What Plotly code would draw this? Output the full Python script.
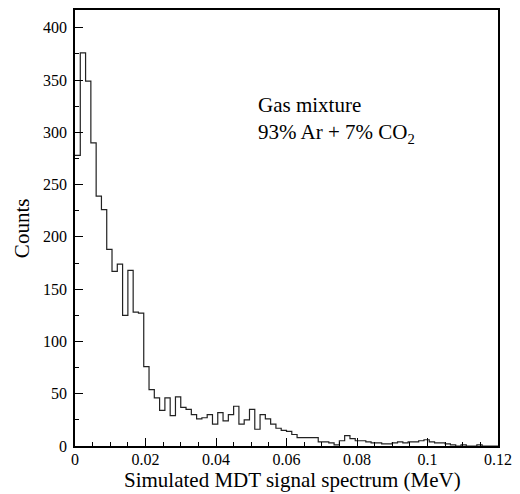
import numpy as np
import plotly.graph_objects as go

# ---- data ----
bin_width = 0.0015  # MeV
counts = [278, 376, 349, 290, 239, 226, 188, 167, 174, 125,
          168, 128, 127, 76, 54, 46, 34, 46, 29, 47,
          37, 35, 30, 26, 27, 30, 21, 32, 24, 30,
          38, 21, 25, 35, 16, 30, 26, 21, 17, 15,
          14, 11, 8, 8, 8, 8, 4, 4, 3, 1,
          5, 10, 7, 5, 5, 4, 3, 3, 2, 2,
          3, 4, 3, 4, 4, 5, 6, 4, 3, 3,
          2, 1, 0, 1, 0, 0, 1, 0, 0, 0]
x_ticks = [0, 0.02, 0.04, 0.06, 0.08, 0.10, 0.12]
x_ticklabels = ["0", "0.02", "0.04", "0.06", "0.08", "0.1", "0.12"]
y_ticks = [0, 50, 100, 150, 200, 250, 300, 350, 400]
y_ticklabels = [str(v) for v in y_ticks]

edges = [i * bin_width for i in range(len(counts) + 1)]
ys = counts + [counts[-1]]

FONT = "Liberation Serif, Times New Roman, serif"

fig = go.Figure()
fig.add_trace(go.Scatter(
    x=edges, y=ys, mode="lines", line=dict(shape="hv", color="#222222", width=1.2),
    hoverinfo="skip", showlegend=False))

fig.update_layout(
    width=520, height=494,
    margin=dict(l=75, r=20, t=8, b=48),
    paper_bgcolor="white", plot_bgcolor="white",
    font=dict(family=FONT, size=16, color="black"),
    showlegend=False,
)
fig.update_xaxes(
    range=[0, 0.12], tickvals=x_ticks, ticktext=x_ticklabels,
    ticks="inside", ticklen=8, tickwidth=1, tickcolor="black",
    minor=dict(dtick=0.005, tick0=0, ticks="inside", ticklen=4, tickcolor="black", tickwidth=1),
    showline=True, linecolor="black", linewidth=1.5, mirror=True,
    showgrid=False, zeroline=False, ticklabelstandoff=-2,
    tickfont=dict(family=FONT, size=16, color="black"),
)
fig.update_yaxes(
    range=[0, 417], tickvals=y_ticks, ticktext=y_ticklabels,
    ticks="inside", ticklen=8, tickwidth=1, tickcolor="black",
    minor=dict(dtick=25, tick0=0, ticks="inside", ticklen=4, tickcolor="black", tickwidth=1),
    showline=True, linecolor="black", linewidth=1.5, mirror=True,
    showgrid=False, zeroline=False, ticklabelstandoff=3,
    tickfont=dict(family=FONT, size=16, color="black"),
)

fig.add_annotation(text="Gas mixture<br>93% Ar + 7% CO<sub>2</sub>", x=0.0513, y=340,
                   xref="x", yref="y", xanchor="left", yanchor="top", align="left",
                   showarrow=False, font=dict(family=FONT, size=21, color="black"))
fig.add_annotation(text="Simulated MDT signal spectrum (MeV)", x=0.515, y=-0.078,
                   xref="paper", yref="paper", xanchor="center", yanchor="middle",
                   showarrow=False, font=dict(family=FONT, size=21, color="black"))
fig.add_annotation(text="Counts", x=-0.125, y=0.5, xref="paper", yref="paper",
                   xanchor="center", yanchor="middle", textangle=-90,
                   showarrow=False, font=dict(family=FONT, size=21, color="black"))

fig.write_html("out.html")
